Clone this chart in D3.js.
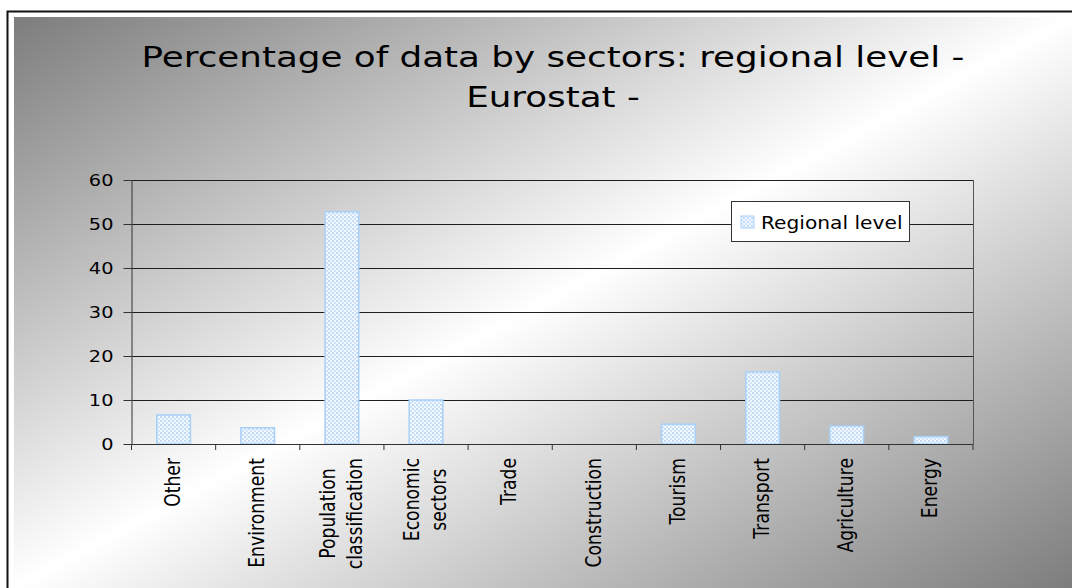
<!DOCTYPE html>
<html>
<head>
<meta charset="utf-8">
<script src="https://cdn.jsdelivr.net/npm/d3@7"></script>
<style>
  body { margin: 0; background: #fff; }
  svg { display: block; font-family: "DejaVu Sans", Verdana, sans-serif; }
</style>
</head>
<body>
<svg width="1072" height="588"></svg>
<script>
// sectors, left to right; two-line labels split on "|"
var categories = ['Other', 'Environment', 'Population|classification', 'Economic|sectors',
  'Trade', 'Construction', 'Tourism', 'Transport', 'Agriculture', 'Energy'];
var regional = [6.6, 3.7, 52.8, 10.0, 0, 0, 4.5, 16.4, 4.1, 1.7];
var yTicks = [0, 10, 20, 30, 40, 50, 60];
var titleLines = ['Percentage of data by sectors: regional level -', 'Eurostat -'];
var seriesName = 'Regional level';

var svg = d3.select('svg'),
  width = +svg.attr('width'),
  height = +svg.attr('height');

var margin = {left: 131.5, right: width - 973, top: 180, bottom: height - 444};
var sx = 1.21;  // the original picture is stretched sideways, so text is too

var defs = svg.append('defs');

var bg = defs.append('linearGradient')
  .attr('id', 'bg')
  .attr('x1', 0).attr('y1', 0).attr('x2', 1).attr('y2', 1);
bg.append('stop').attr('offset', 0).attr('stop-color', '#7d7d7d');
bg.append('stop').attr('offset', 0.5).attr('stop-color', '#ffffff');
bg.append('stop').attr('offset', 1).attr('stop-color', '#7d7d7d');

// dotted fill like the old Excel pattern
var pat = defs.append('pattern')
  .attr('id', 'dots')
  .attr('patternUnits', 'userSpaceOnUse')
  .attr('width', 4).attr('height', 4);
pat.append('rect').attr('width', 4).attr('height', 4).attr('fill', '#f3f8ff');
pat.append('circle').attr('cx', 1).attr('cy', 1).attr('r', 0.9).attr('fill', '#a9cff6');
pat.append('circle').attr('cx', 3).attr('cy', 3).attr('r', 0.9).attr('fill', '#bcdaf8');

// outer frame + gradient panel
svg.append('rect')
  .attr('x', 7.5).attr('y', 11.5)
  .attr('width', width).attr('height', height)
  .attr('fill', '#fff')
  .attr('stroke', '#111').attr('stroke-width', 2);
svg.append('rect')
  .attr('x', 14).attr('y', 17)
  .attr('width', width - 14).attr('height', height - 17)
  .attr('fill', 'url(#bg)');

var x = d3.scaleBand()
  .domain(categories)
  .range([margin.left, width - margin.right])
  .paddingInner(0.6)
  .paddingOuter(0.3);

var y = d3.scaleLinear()
  .domain([0, 60])
  .range([height - margin.bottom, margin.top]);

var x0 = margin.left, x1 = width - margin.right;

// title
svg.append('g')
  .selectAll('text')
  .data(titleLines)
  .enter()
  .append('text')
  .attr('text-anchor', 'middle')
  .attr('font-size', 29)
  .attr('fill', '#000')
  .attr('transform', (d, i) => `translate(553,${67 + i * 40}) scale(1.232,1)`)
  .text(d => d);

// gridlines
svg.append('g')
  .selectAll('line')
  .data(yTicks.filter(v => v > 0))
  .enter()
  .append('line')
  .attr('x1', x0).attr('x2', x1)
  .attr('y1', d => Math.round(y(d)) + 0.5)
  .attr('y2', d => Math.round(y(d)) + 0.5)
  .attr('stroke', '#1e1e1e');

// right border of plot area
svg.append('line')
  .attr('x1', x1 + 0.5).attr('x2', x1 + 0.5)
  .attr('y1', y(60)).attr('y2', y(0))
  .attr('stroke', '#555');

// bars
svg.append('g')
  .selectAll('rect')
  .data(regional)
  .enter()
  .append('rect')
  .attr('x', (d, i) => x(categories[i]))
  .attr('y', d => y(d))
  .attr('width', x.bandwidth())
  .attr('height', d => y(0) - y(d))
  .attr('fill', 'url(#dots)')
  .attr('stroke', '#a9d0f7')
  .attr('stroke-width', 1.5);

// y axis
var yAxis = svg.append('g')
  .attr('transform', `translate(${x0},0)`)
  .call(d3.axisLeft(y).tickValues(yTicks).tickSize(8).tickPadding(10).tickSizeOuter(0));
yAxis.select('.domain').attr('stroke', '#333');
yAxis.selectAll('.tick line').attr('stroke', '#333');
yAxis.selectAll('text')
  .attr('x', null)
  .attr('transform', `translate(-18,0) scale(${sx},1)`)
  .attr('font-size', 16)
  .attr('font-family', '"DejaVu Sans", Verdana, sans-serif')
  .attr('fill', '#000');

// x axis with ticks between categories
var bounds = categories.map(c => x(c) + x.bandwidth() / 2 - x.step() / 2).concat([x1]);
var xAxis = svg.append('g');
xAxis.append('line')
  .attr('x1', x0).attr('x2', x1)
  .attr('y1', y(0) + 0.5).attr('y2', y(0) + 0.5)
  .attr('stroke', '#333');
xAxis.selectAll('.xt')
  .data(bounds)
  .enter()
  .append('line')
  .attr('class', 'xt')
  .attr('x1', d => d).attr('x2', d => d)
  .attr('y1', y(0)).attr('y2', y(0) + 6)
  .attr('stroke', '#333');

// rotated category labels, lines centred on each other, top end at y=458
var labelTop = 458;
var labels = xAxis.selectAll('.xl')
  .data(categories)
  .enter()
  .append('text')
  .attr('class', 'xl')
  .attr('font-size', 17.2)
  .attr('text-anchor', 'middle')
  .attr('fill', '#000');
labels.each(function(c) {
  var lines = c.split('|');
  var t = d3.select(this);
  lines.forEach((ln, i) => {
    t.append('tspan')
      .attr('x', 0)
      .attr('y', (i - (lines.length - 1) / 2) * 22.5)
      .attr('dy', '0.35em')
      .text(ln);
  });
  var maxLen = d3.max(t.selectAll('tspan').nodes(), n => n.getComputedTextLength());
  var cx = x(c) + x.bandwidth() / 2 - 1;
  t.attr('transform', `translate(${cx},${labelTop + maxLen / 2}) scale(${sx},1) rotate(-90)`);
});

// legend
var lg = svg.append('g').attr('transform', 'translate(731,201)');
lg.append('rect')
  .attr('x', 0.5).attr('y', 0.5)
  .attr('width', 178).attr('height', 40)
  .attr('fill', '#fff')
  .attr('stroke', '#333');
lg.append('rect')
  .attr('x', 10).attr('y', 15)
  .attr('width', 13).attr('height', 12)
  .attr('fill', 'url(#dots)')
  .attr('stroke', '#a9d0f7');
lg.append('text')
  .attr('transform', `translate(30,27.5) scale(${sx * 0.97},1)`)
  .attr('font-size', 17.2)
  .attr('fill', '#000')
  .text(seriesName);
</script>
</body>
</html>
